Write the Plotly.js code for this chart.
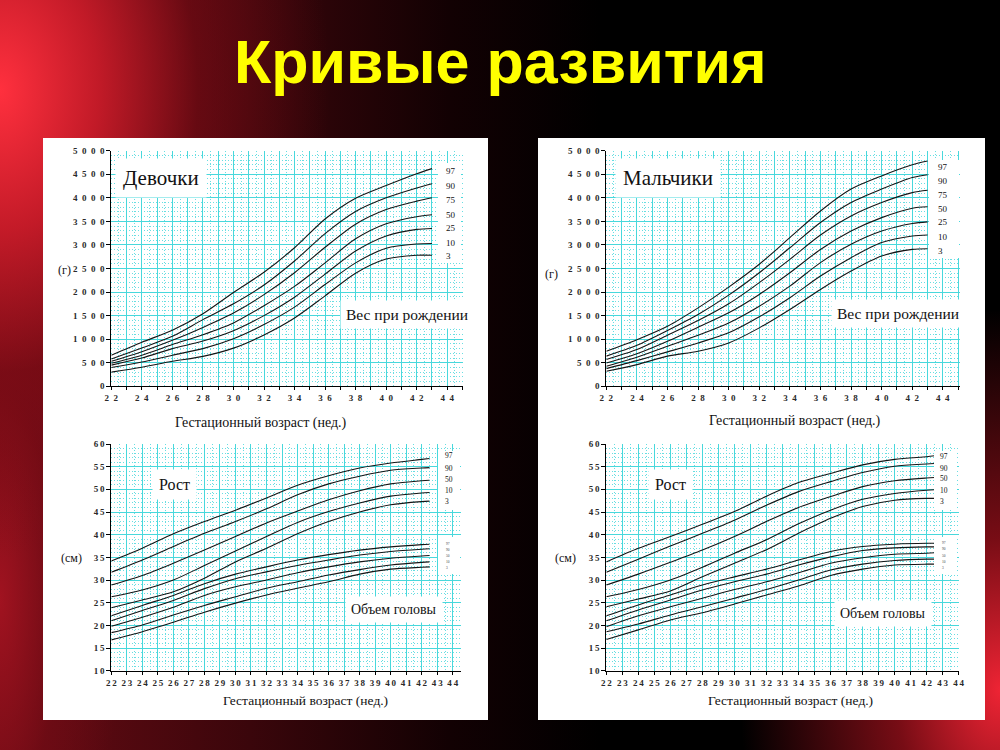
<!DOCTYPE html>
<html><head><meta charset="utf-8">
<script src="https://cdn.plot.ly/plotly-3.0.1.min.js"></script>
<style>
html,body{margin:0;padding:0;width:1000px;height:750px;overflow:hidden;background:#000;}
#bg{position:absolute;left:0;top:0;width:1000px;height:750px;
background:
 radial-gradient(ellipse 330px 470px at 0px 90px, rgba(255,48,62,1) 0%, rgba(205,28,42,0.9) 30%, rgba(130,12,22,0.55) 60%, rgba(0,0,0,0) 100%),
 radial-gradient(ellipse 260px 380px at 1000px 690px, rgba(238,36,52,1) 0%, rgba(170,18,30,0.7) 40%, rgba(0,0,0,0) 100%),
 radial-gradient(ellipse 120px 420px at 0px 600px, rgba(170,20,34,0.85) 0%, rgba(120,12,22,0.5) 50%, rgba(0,0,0,0) 100%),
 linear-gradient(90deg, #6a0b14 0%, #3a060b 25%, #120103 45%, #000 60%, #000 100%);}
#chart{position:absolute;left:0;top:0;width:1000px;height:750px;}
</style></head><body><div id="bg"></div><div id="chart"></div>
<script>
// ---------------- data ----------------
const weeksWeight = [22,24,26,28,30,32,34,36,38,40,42,43];
const girlsWeight97 = [660, 935, 1190, 1540, 1990, 2420, 2940, 3550, 3990, 4260, 4510, 4620];
const girlsWeight90 = [580, 815, 1060, 1415, 1750, 2150, 2660, 3240, 3710, 4000, 4210, 4300];
const girlsWeight75 = [530, 735, 975, 1250, 1555, 1945, 2410, 2950, 3440, 3750, 3930, 4000];
const girlsWeight50 = [490, 660, 885, 1095, 1345, 1710, 2120, 2620, 3130, 3450, 3600, 3640];
const girlsWeight25 = [450, 600, 800, 960, 1180, 1500, 1890, 2380, 2870, 3190, 3330, 3350];
const girlsWeight10 = [400, 515, 660, 800, 1010, 1310, 1680, 2160, 2620, 2930, 3020, 3030];
const girlsWeight3  = [300, 405, 530, 635, 810, 1090, 1450, 1920, 2400, 2700, 2780, 2780];

const boysWeight97 = [745, 990, 1275, 1665, 2105, 2590, 3155, 3720, 4185, 4465, 4700, 4780];
const boysWeight90 = [640, 870, 1185, 1525, 1935, 2410, 2940, 3475, 3900, 4185, 4430, 4490];
const boysWeight75 = [570, 780, 1085, 1395, 1750, 2200, 2695, 3210, 3615, 3900, 4110, 4160];
const boysWeight50 = [495, 690, 955, 1255, 1560, 1950, 2410, 2905, 3295, 3580, 3780, 3810];
const boysWeight25 = [425, 615, 850, 1085, 1345, 1700, 2125, 2625, 3015, 3295, 3455, 3490];
const boysWeight10 = [375, 545, 730, 920, 1135, 1475, 1880, 2340, 2730, 3050, 3190, 3210];
const boysWeight3  = [320, 460, 640, 745, 920, 1240, 1630, 2055, 2445, 2765, 2905, 2920];

const weeksLength = [22,24,26,28,30,32,34,36,38,40,42,42.5];
const girlsLength97 = [34.2, 37.0, 40.2, 42.9, 45.4, 48.1, 50.9, 53.0, 54.7, 55.8, 56.6, 56.8];
const girlsLength90 = [31.7, 34.4, 37.4, 40.3, 42.9, 45.7, 48.8, 51.2, 52.9, 54.2, 54.7, 54.8];
const girlsLength50 = [28.9, 31.0, 33.7, 36.6, 39.6, 42.6, 45.2, 47.7, 49.7, 51.2, 51.9, 52.0];
const girlsLength10 = [26.3, 27.8, 30.0, 33.2, 36.4, 39.6, 42.7, 45.1, 47.0, 48.5, 49.2, 49.3];
const girlsLength3  = [23.9, 25.6, 27.4, 30.4, 34.0, 37.0, 40.2, 42.9, 45.0, 46.6, 47.3, 47.4];
const girlsHead97 = [22.1, 24.4, 26.6, 29.2, 31.3, 32.9, 34.4, 35.6, 36.6, 37.3, 37.8, 37.9];
const girlsHead90 = [21.0, 23.3, 25.5, 28.1, 30.3, 31.8, 33.2, 34.4, 35.5, 36.3, 36.8, 36.9];
const girlsHead50 = [19.8, 21.8, 24.0, 26.6, 28.5, 30.0, 31.6, 32.9, 34.0, 34.8, 35.3, 35.4];
const girlsHead10 = [18.4, 20.1, 22.3, 24.4, 26.3, 28.2, 29.6, 31.1, 32.3, 33.3, 33.9, 34.0];
const girlsHead3  = [16.8, 18.6, 20.7, 22.9, 24.9, 26.7, 28.2, 29.6, 31.3, 32.4, 32.8, 32.9];

const boysLength97 = [34.0, 37.0, 39.6, 42.3, 45.1, 48.5, 51.5, 53.5, 55.4, 56.6, 57.2, 57.4];
const boysLength90 = [31.7, 34.6, 37.5, 40.3, 43.2, 46.5, 49.5, 51.7, 53.7, 55.1, 55.6, 55.7];
const boysLength50 = [28.9, 31.3, 33.9, 36.6, 39.6, 42.9, 46.0, 48.4, 50.6, 51.9, 52.5, 52.6];
const boysLength10 = [26.3, 27.9, 30.0, 32.8, 35.9, 38.9, 42.4, 45.4, 47.8, 49.1, 49.8, 49.9];
const boysLength3  = [24.1, 25.8, 27.6, 30.7, 33.7, 36.7, 40.3, 43.6, 46.2, 47.6, 48.0, 48.0];
const boysHead97 = [22.1, 24.5, 26.7, 28.9, 30.7, 32.4, 34.4, 36.3, 37.4, 37.9, 38.1, 38.1];
const boysHead90 = [21.0, 23.4, 25.6, 27.8, 29.6, 31.3, 33.3, 35.1, 36.5, 37.1, 37.3, 37.3];
const boysHead50 = [19.7, 22.1, 24.1, 26.0, 27.9, 29.6, 31.6, 33.7, 34.9, 35.7, 35.9, 36.0];
const boysHead10 = [18.6, 20.3, 22.3, 24.1, 26.0, 27.9, 30.0, 32.2, 33.5, 34.3, 34.6, 34.6];
const boysHead3  = [16.9, 19.0, 21.2, 22.8, 24.7, 26.7, 28.7, 31.0, 32.4, 33.3, 33.5, 33.5];

const weightPercentiles = ['97','90','75','50','25','10','3'];
const lengthPercentiles = ['97','90','50','10','3'];
const weightTicks = [0,500,1000,1500,2000,2500,3000,3500,4000,4500,5000];
const lengthTicks = [10,15,20,25,30,35,40,45,50,55,60];
const weekTicks = [22,23,24,25,26,27,28,29,30,31,32,33,34,35,36,37,38,39,40,41,42,43,44,45];
const mainTitle = 'Кривые развития';
const xTitle = 'Гестационный возраст (нед.)';

// ---------------- helpers ----------------
const W = 1000, H = 750;
const px = v => v / W, py = v => 1 - v / H;
const spaced = (s, sep) => String(s).split('').join(sep);
const EN = '\u2002', THIN = '\u2009';
const SERIF = 'Liberation Serif, Times New Roman, serif';
const LINE = {color: '#151515', width: 1.1, shape: 'spline', smoothing: 0.8};

const traces = [];
function addCurves(xs, series, xa, ya) {
  series.forEach(s => traces.push({type: 'scatter', mode: 'lines', x: xs, y: s,
    xaxis: xa, yaxis: ya, line: LINE, hoverinfo: 'skip', showlegend: false}));
}
addCurves(weeksWeight, [girlsWeight97, girlsWeight90, girlsWeight75, girlsWeight50, girlsWeight25, girlsWeight10, girlsWeight3], 'x', 'y');
addCurves(weeksLength, [girlsLength97, girlsLength90, girlsLength50, girlsLength10, girlsLength3, girlsHead97, girlsHead90, girlsHead50, girlsHead10, girlsHead3], 'x2', 'y2');
addCurves(weeksWeight, [boysWeight97, boysWeight90, boysWeight75, boysWeight50, boysWeight25, boysWeight10, boysWeight3], 'x3', 'y3');
addCurves(weeksLength, [boysLength97, boysLength90, boysLength50, boysLength10, boysLength3, boysHead97, boysHead90, boysHead50, boysHead10, boysHead3], 'x4', 'y4');

const GRID = 'rgb(72,216,220)', MINOR = 'rgb(105,222,226)';
const TICKFONT = {family: SERIF, size: 9, color: '#2a2a2a', weight: 'bold'};

function xAxis(domain, range, everyLabel, anchor) {
  return {domain, range, anchor, tickmode: 'array', tickvals: weekTicks,
    ticktext: weekTicks.map(w => everyLabel ? spaced(w, THIN) : (w % 2 === 0 ? spaced(w, EN) : '')),
    showline: true, linecolor: '#000', linewidth: 1, ticks: 'outside', ticklen: 3, tickcolor: '#000',
    showgrid: true, gridcolor: GRID, gridwidth: 1, zeroline: false, tickfont: TICKFONT,
    minor: {dtick: 0.5, tick0: 22, showgrid: true, gridcolor: MINOR, griddash: '1px,2px', gridwidth: 1, ticks: ''},
    fixedrange: true};
}
function yAxis(domain, range, ticks, sep, minorStep, anchor) {
  return {domain, range, anchor, tickmode: 'array', tickvals: ticks,
    ticktext: ticks.map(t => spaced(t, sep)),
    showline: true, linecolor: '#000', linewidth: 1, ticks: 'outside', ticklen: 4, tickcolor: '#000',
    showgrid: true, gridcolor: GRID, gridwidth: 1, zeroline: false, tickfont: TICKFONT,
    minor: {dtick: minorStep, tick0: range[0], showgrid: true, gridcolor: MINOR, griddash: '1px,2px', gridwidth: 1, ticks: ''},
    fixedrange: true};
}

const yW = [py(386.3), py(150.7)];
const yL = [py(670.7), py(444)];

const ann = [];
function A(text, x, y, size, extra) {
  ann.push(Object.assign({text, xref: 'paper', yref: 'paper', x: px(x), y: py(y), showarrow: false,
    xanchor: 'center', yanchor: 'middle', font: {family: SERIF, size, color: '#111'}}, extra || {}));
}
// main title
A(mainTitle, 500, 62, 61, {font: {family: 'Liberation Sans, Arial, sans-serif', size: 61, color: '#FFFF00', weight: 'bold'}});
// panel labels
A('Девочки', 161, 178, 21, {bgcolor: '#fff', borderpad: 7});
A('Мальчики', 668, 178, 21, {bgcolor: '#fff', borderpad: 7});
A('Вес при рождении', 407, 315, 15.5, {bgcolor: '#fff', borderpad: 5});
A('Вес при рождении', 898, 313, 15.5, {bgcolor: '#fff', borderpad: 5});
A('Рост', 174, 485, 16, {bgcolor: '#fff', borderpad: 6});
A('Рост', 670, 484, 16, {bgcolor: '#fff', borderpad: 6});
A('Объем головы', 394, 609, 14, {bgcolor: '#fff', borderpad: 5});
A('Объем головы', 883, 613, 14, {bgcolor: '#fff', borderpad: 5});
// axis titles
A(xTitle, 261, 423, 14);
A(xTitle, 305, 700, 13.5);
A(xTitle, 795, 421, 14);
A(xTitle, 790, 700, 13.5);
A('(г)', 64, 270, 12);
A('(г)', 551, 274, 12);
A('(см)', 71, 558, 12);
A('(см)', 565, 558, 12);
// percentile labels
const gW = [171, 186, 200, 215, 228, 243, 256];
const bW = [167, 181, 195, 209, 222, 237, 251];
weightPercentiles.forEach((p, i) => {
  A(p, 444, gW[i], 9, {xanchor: 'left'});
  A(p, 936, bW[i], 9, {xanchor: 'left'});
});
const gL = [455, 468, 479, 490, 501], bL = [456, 468, 478, 490, 501];
const gH = [544, 550, 556, 562, 568], bH = [543, 549, 556, 562, 568];
lengthPercentiles.forEach((p, i) => {
  A(p, 443, gL[i], 7.5, {xanchor: 'left'});
  A(p, 938, bL[i], 7.5, {xanchor: 'left'});
  A(p, 444, gH[i], 3.5, {xanchor: 'left', font: {family: SERIF, size: 3.5, color: '#444'}});
  A(p, 940, bH[i], 3.5, {xanchor: 'left', font: {family: SERIF, size: 3.5, color: '#444'}});
});

const rectPx = (x0, y0, x1, y1, layer) => ({type: 'rect', xref: 'paper', yref: 'paper',
  x0: px(x0), x1: px(x1), y0: py(y1), y1: py(y0), fillcolor: '#fff', line: {width: 0}, layer});
const shapes = [
  rectPx(43, 138, 488, 720, 'below'),
  rectPx(538, 138, 985, 720, 'below'),
  rectPx(438, 163, 461, 263, 'above'),
  rectPx(929, 160, 959, 258, 'above'),
  rectPx(438, 451, 460, 510, 'above'),
  rectPx(438, 537, 460, 574, 'above'),
  rectPx(934, 451, 957, 510, 'above'),
  rectPx(934, 537, 957, 574, 'above')
];

const layout = {
  width: W, height: H, margin: {l: 0, r: 0, t: 0, b: 0},
  paper_bgcolor: 'rgba(0,0,0,0)', plot_bgcolor: '#fff', showlegend: false,
  xaxis: xAxis([px(111.3), px(462.5)], [22, 45], false, 'y'),
  yaxis: yAxis(yW, [0, 5000], weightTicks, EN, 100, 'x'),
  xaxis2: xAxis([px(111.3), px(461.3)], [22, 44.55], true, 'y2'),
  yaxis2: yAxis(yL, [10, 60], lengthTicks, THIN, 1, 'x2'),
  xaxis3: xAxis([px(606.3), px(959.7)], [22, 45.1], false, 'y3'),
  yaxis3: yAxis(yW, [0, 5000], weightTicks, EN, 100, 'x3'),
  xaxis4: xAxis([px(606.3), px(958.7)], [22, 44], true, 'y4'),
  yaxis4: yAxis(yL, [10, 60], lengthTicks, THIN, 1, 'x4'),
  annotations: ann, shapes
};
Plotly.newPlot('chart', traces, layout, {staticPlot: true, displayModeBar: false});
</script></body></html>
